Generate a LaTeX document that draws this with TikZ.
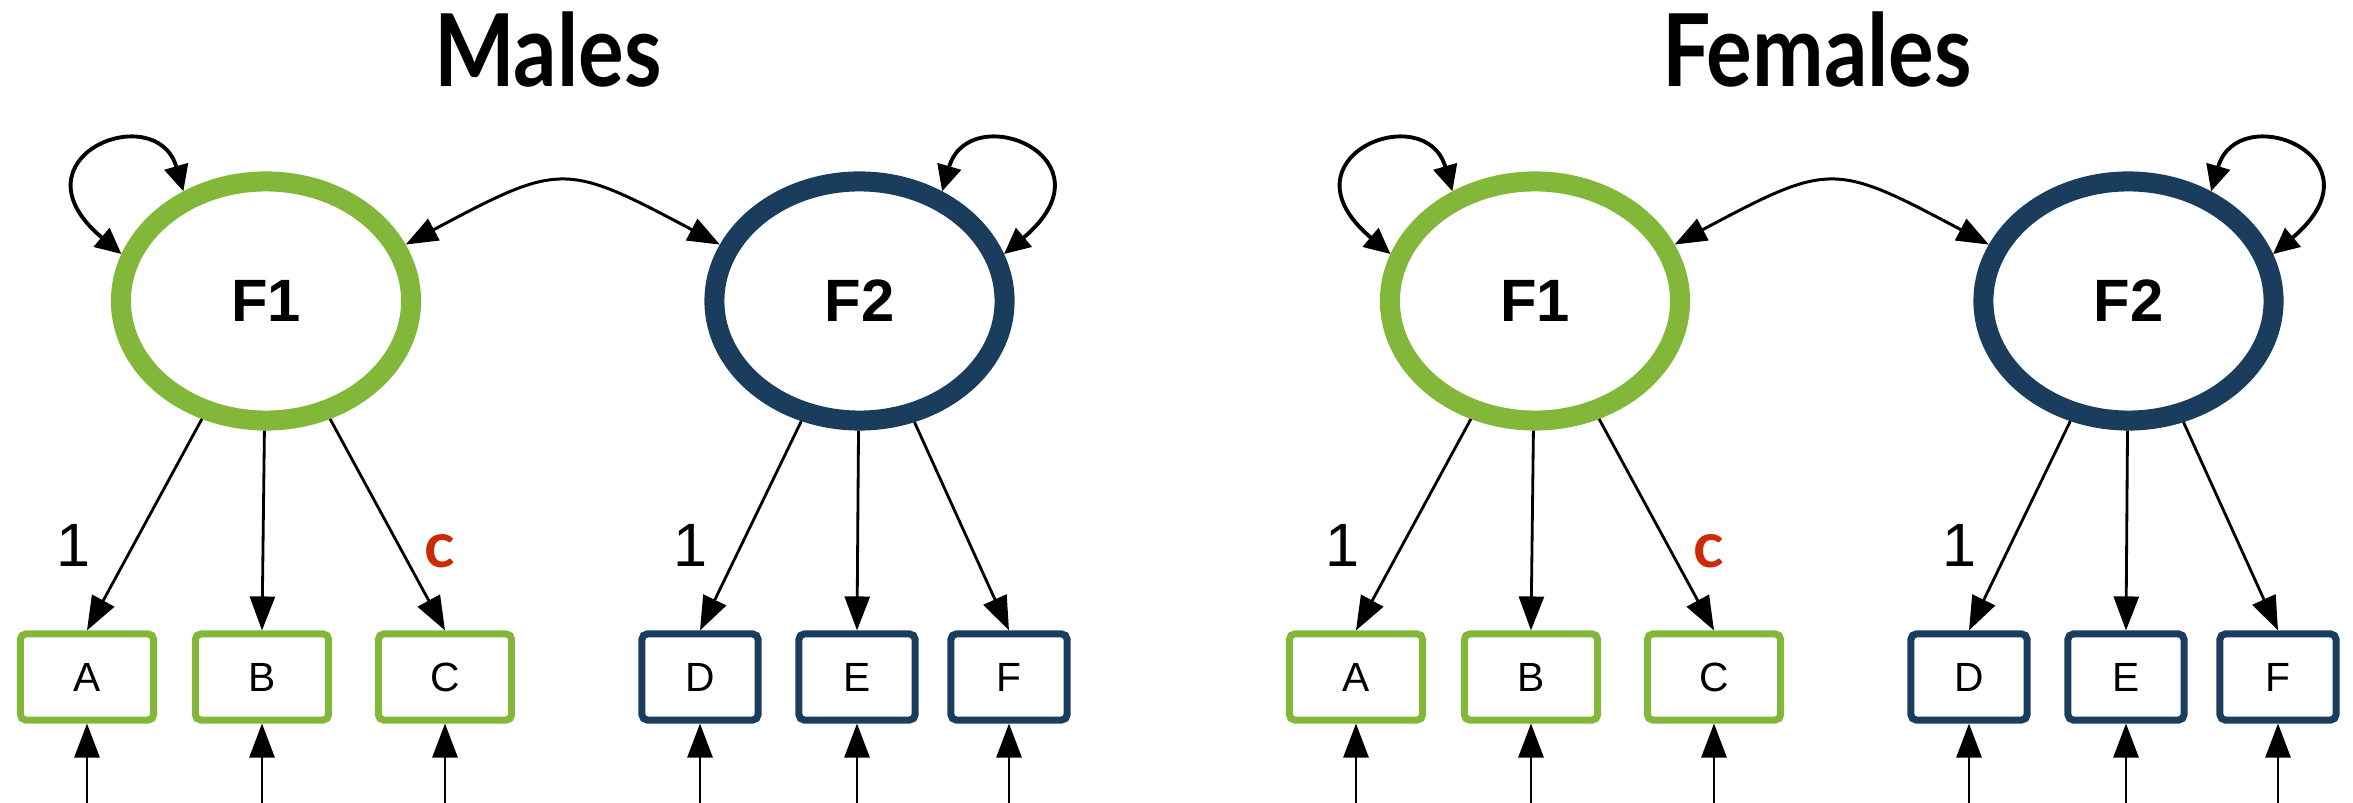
\documentclass[tikz,border=0pt]{standalone}
\usepackage{fontspec}
\setmainfont{Liberation Sans}
\newfontfamily\titlefont{Lato}
\usetikzlibrary{arrows.meta}
\usetikzlibrary{shapes.geometric}

\definecolor{fgreen}{HTML}{82B73A}
\definecolor{fnavy}{HTML}{1A3D5E}
\definecolor{cred}{HTML}{CC2A05}

\begin{document}
\begin{tikzpicture}[x=0.01cm,y=0.01cm,
    factorn/.style={ellipse,draw,line width=0.2cm,minimum width=2.9cm,
      minimum height=2.39cm,inner sep=0pt,font=\fontsize{17}{17}\selectfont\bfseries},
    itemn/.style={rectangle,draw,line width=0.07cm,rounded corners=1.5pt,
      minimum height=0.86cm,inner sep=0pt,font=\fontsize{11.6}{11.6}\selectfont},
    greenn/.style={itemn,draw=fgreen,minimum width=1.33cm},
    bluen/.style={itemn,draw=fnavy,minimum width=1.16cm},
    titlen/.style={anchor=base,font=\titlefont\fontsize{28.6}{28.6}\selectfont\bfseries},
    onen/.style={inner sep=0pt,font=\fontsize{17.4}{17.4}\selectfont},
    cn/.style={inner sep=0pt,text=cred,font=\titlefont\fontsize{18}{18}\selectfont\bfseries},
    loadn/.style={line width=0.8pt,-{Triangle[length=0.34cm,width=0.25cm]}},
    covn/.style={line width=0.85pt,
      {Triangle[length=0.32cm,width=0.24cm]}-{Triangle[length=0.32cm,width=0.24cm]}},
    varn/.style={line width=1.1pt,
      {Triangle[length=0.26cm,width=0.24cm]}-{Triangle[length=0.26cm,width=0.24cm]}}]
  \useasboundingbox (0,0) rectangle (2353,803);
  \foreach \g/\dx/\ttl in {m/0/Males,f/1269/Females}{
    \node[titlen] (T\g) at (548+\dx,716) {\scalebox{0.85}[1]{\ttl}};
    \node[factorn,draw=fgreen] (F1\g) at (266+\dx,502) {F1};
    \node[factorn,draw=fnavy] (F2\g) at (859.5+\dx,502) {F2};
    \foreach \n/\x in {A/87,B/262,C/445}
      \node[greenn] (\n\g) at (\x+\dx,126) {\n};
    \foreach \n/\x in {D/700,E/857,F/1009}
      \node[bluen] (\n\g) at (\x+\dx,126) {\n};
    \foreach \n in {A,B,C}
      \draw[loadn] (F1\g) -- (\n\g.north);
    \foreach \n in {D,E,F}
      \draw[loadn] (F2\g) -- (\n\g.north);
    \foreach \n in {A,B,C,D,E,F}{
      \coordinate (e\n\g) at (\n\g |- 0,0);
      \draw[loadn] (e\n\g) -- (\n\g);
    }
    \node[onen] (one1\g) at (74+\dx,258) {1};
    \node[onen] (one2\g) at (691+\dx,258) {1};
    \node[cn] (c\g) at (440+\dx,252) {c};
    \draw[varn] (F1\g.127) .. controls +(106:98) and +(140:150) .. (F1\g.162);
    \draw[varn] (F2\g.53) .. controls +(74:98) and +(40:150) .. (F2\g.18);
    \draw[covn] (F1\g.22) .. controls +(28:176) and +(152:176) .. (F2\g.158);
  }
\end{tikzpicture}
\end{document}
